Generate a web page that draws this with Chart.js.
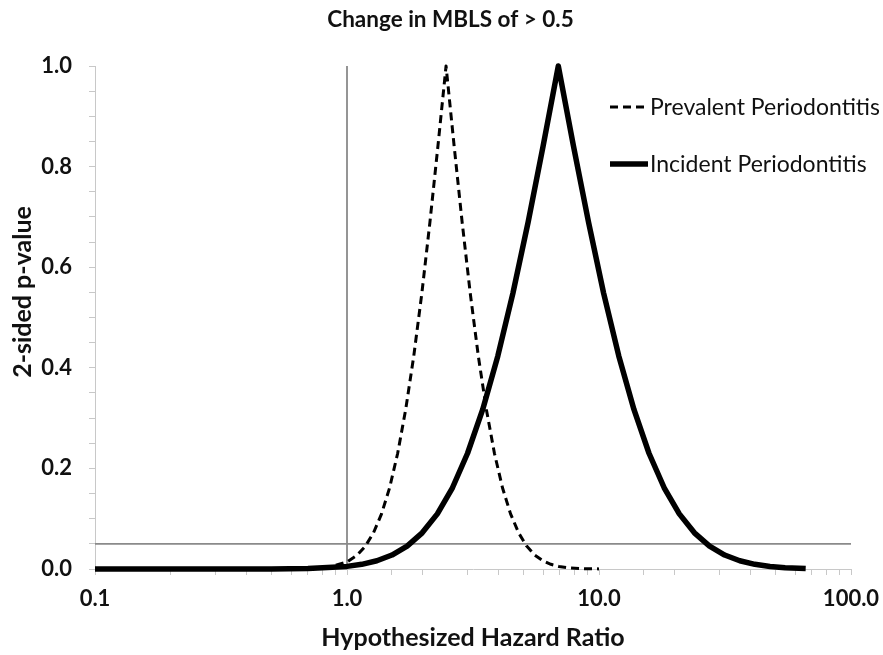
<!DOCTYPE html>
<html>
<head>
<meta charset="utf-8">
<script src="https://cdn.jsdelivr.net/npm/chart.js@4/dist/chart.umd.min.js"></script>
<style>
  html, body { margin: 0; padding: 0; background: #ffffff; }
  #wrap { width: 883px; height: 655px; }
</style>
</head>
<body>
<div id="wrap"><canvas id="c" width="883" height="655"></canvas></div>
<script>
// ---- Data ----
const chartTitle = 'Change in MBLS of > 0.5';
const xAxisTitle = 'Hypothesized Hazard Ratio';
const yAxisTitle = '2-sided p-value';
const seriesNames = ['Prevalent Periodontitis', 'Incident Periodontitis'];

const prevalentHR = [0.5, 0.7, 0.85, 1.0, 1.099, 1.183, 1.274, 1.371, 1.476, 1.589, 1.710, 1.841, 1.982, 2.133, 2.296, 2.472, 2.661, 2.864, 3.083, 3.319, 3.573, 3.846, 4.140, 4.457, 4.797, 5.164, 5.559, 5.984, 6.442, 6.934, 7.464, 8.650, 10.0];
const prevalentP  = [0, 0.0006, 0.0037, 0.014, 0.0278, 0.0455, 0.0719, 0.1096, 0.1615, 0.2301, 0.3173, 0.4237, 0.5485, 0.6892, 0.8415, 1.0, 0.8415, 0.6892, 0.5485, 0.4237, 0.3173, 0.2301, 0.1615, 0.1096, 0.0719, 0.0455, 0.0278, 0.0164, 0.0093, 0.0051, 0.0027, 0.0007, 0.0002];

const incidentHR = [0.1, 0.2, 0.3, 0.5, 0.7, 1.0, 1.144, 1.314, 1.508, 1.732, 1.988, 2.283, 2.621, 3.009, 3.456, 3.968, 4.555, 5.231, 6.004, 6.895, 7.915, 9.089, 10.43, 11.98, 13.76, 15.79, 18.14, 20.83, 23.91, 27.46, 31.52, 36.19, 41.55, 47.71, 54.77, 66.1];
const incidentP  = [0, 0, 0, 0.0002, 0.0009, 0.0052, 0.0093, 0.0164, 0.0278, 0.0455, 0.0719, 0.1096, 0.1615, 0.2301, 0.3173, 0.4237, 0.5485, 0.6892, 0.8415, 1.0, 0.8415, 0.6892, 0.5485, 0.4237, 0.3173, 0.2301, 0.1615, 0.1096, 0.0719, 0.0455, 0.0278, 0.0164, 0.0093, 0.0051, 0.0027, 0.0011];

// reference lines
const nullHR = [1.0, 1.0];
const nullP = [0, 1.0];
const alphaHR = [0.1, 100];
const alphaP = [0.05, 0.05];

// axis ranges / labels
const xMin = 0.1, xMax = 100;
const yMin = 0, yMax = 1.0, yStep = 0.05, yLabelStep = 0.2;

const pts = (xs, ys) => xs.map((x, i) => ({ x: x, y: ys[i] }));

const FONT = 'Lato, "Open Sans", sans-serif';
const TXT = '#111111';

// Title and rotated y-axis title, drawn as canvas text
const titles = {
  id: 'titles',
  afterDraw(chart) {
    const ctx = chart.ctx;
    ctx.save();
    ctx.fillStyle = TXT;
    ctx.textAlign = 'center';
    ctx.textBaseline = 'alphabetic';
    ctx.font = 'bold 22.5px ' + FONT;
    ctx.fillText(chartTitle, chart.width / 2 + 9, 27);
    ctx.translate(31, 292);
    ctx.rotate(-Math.PI / 2);
    ctx.font = 'bold 25px ' + FONT;
    ctx.fillText(yAxisTitle, 0, 0);
    ctx.restore();
  }
};

const insideLegend = {
  id: 'insideLegend',
  afterDatasetsDraw(chart) {
    const ctx = chart.ctx;
    const area = chart.chartArea;
    const items = seriesNames.map(n => chart.data.datasets.find(d => d.label === n));
    const x0 = area.right - 241;
    const lineLen = 38;
    ctx.save();
    ctx.font = '23px ' + FONT;
    ctx.fillStyle = TXT;
    ctx.textBaseline = 'middle';
    ctx.textAlign = 'left';
    items.forEach((d, i) => {
      const y = area.top + 41 + i * 57;
      ctx.beginPath();
      ctx.strokeStyle = d.borderColor;
      ctx.lineWidth = d.borderWidth;
      ctx.setLineDash(d.borderDash || []);
      ctx.moveTo(x0, y);
      ctx.lineTo(x0 + lineLen, y);
      ctx.stroke();
      ctx.setLineDash([]);
      ctx.fillText(d.label, x0 + lineLen + 2, y + 1);
    });
    ctx.restore();
  }
};

new Chart(document.getElementById('c'), {
  type: 'line',
  data: {
    datasets: [
      {
        label: seriesNames[1],
        data: pts(incidentHR, incidentP),
        borderColor: '#000000', borderWidth: 5.5, pointRadius: 0, borderJoinStyle: 'round',
        tension: 0, fill: false, clip: 10, order: 0
      },
      {
        label: seriesNames[0],
        data: pts(prevalentHR, prevalentP),
        borderColor: '#000000', borderWidth: 3, borderDash: [8, 5], pointRadius: 0, borderJoinStyle: 'round',
        tension: 0, fill: false, clip: 10, order: 1
      },
      {
        label: 'null', data: pts(nullHR, nullP),
        borderColor: '#8a8a8a', borderWidth: 1.8, pointRadius: 0, fill: false, order: 2
      },
      {
        label: 'alpha', data: pts(alphaHR, alphaP),
        borderColor: '#8a8a8a', borderWidth: 1.8, pointRadius: 0, fill: false, order: 3
      }
    ]
  },
  options: {
    responsive: false,
    animation: false,
    devicePixelRatio: 1,
    layout: { padding: { left: 0, right: 32, top: 66, bottom: 0 } },
    plugins: {
      legend: { display: false },
      tooltip: { enabled: false },
      title: { display: false }
    },
    scales: {
      x: {
        type: 'logarithmic', min: xMin, max: xMax,
        afterFit(scale) { scale.height = 86; scale.paddingRight = 0; scale.paddingLeft = 0; },
        border: { display: true, color: '#c8c8c8', width: 1 },
        grid: { drawOnChartArea: false, drawTicks: true, tickLength: 6, color: '#c8c8c8' },
        ticks: {
          autoSkip: false, maxRotation: 0, minRotation: 0, padding: 11, color: TXT,
          font: { family: FONT, size: 22, weight: 'bold' },
          callback(value) {
            const l = Math.log10(value);
            return Math.abs(l - Math.round(l)) < 1e-6 ? Number(value).toFixed(1) : '';
          }
        },
        title: {
          display: true, text: xAxisTitle, color: TXT,
          font: { family: FONT, size: 25, weight: 'bold', lineHeight: 1.2 },
          padding: { top: 0, bottom: 2 }
        }
      },
      y: {
        type: 'linear', min: yMin, max: yMax,
        afterFit(scale) { scale.width = 95; },
        border: { display: true, color: '#c8c8c8', width: 1 },
        grid: { drawOnChartArea: false, drawTicks: true, tickLength: 6, color: '#c8c8c8' },
        ticks: {
          stepSize: yStep, autoSkip: false, padding: 17, color: TXT,
          font: { family: FONT, size: 22, weight: 'bold' },
          callback(value) {
            const r = value / yLabelStep;
            return Math.abs(r - Math.round(r)) < 1e-6 ? Number(value).toFixed(1) : '';
          }
        },
        title: { display: false }
      }
    }
  },
  plugins: [insideLegend, titles]
});
</script>
</body>
</html>
